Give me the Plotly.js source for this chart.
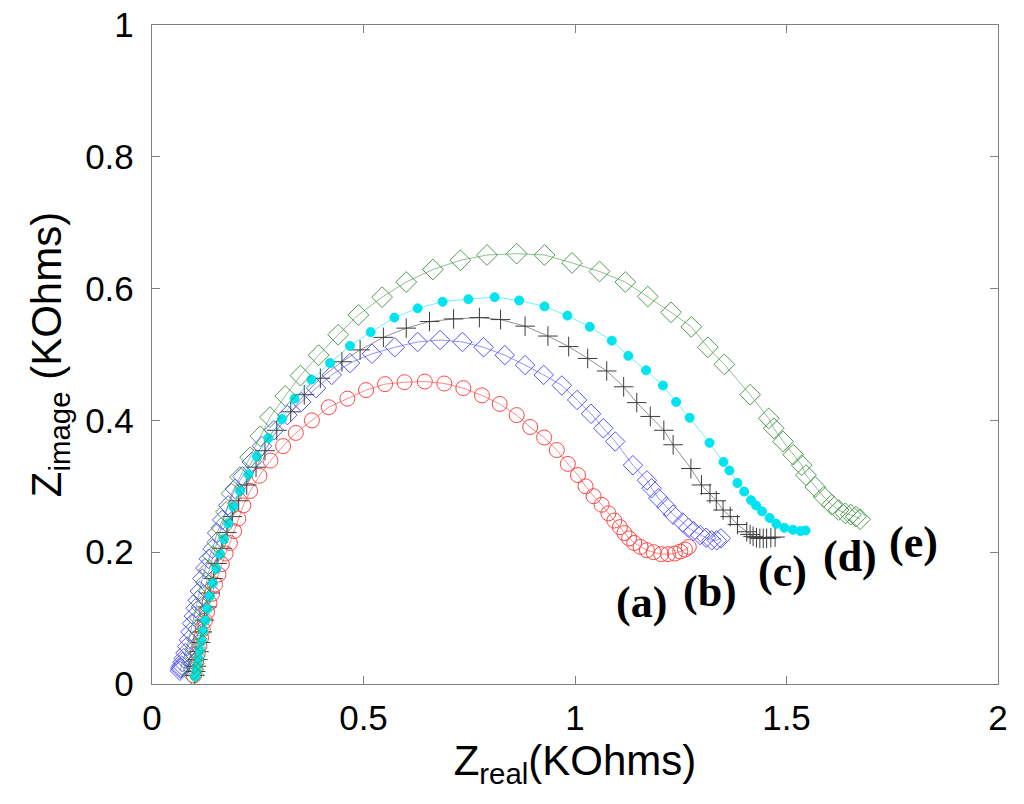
<!DOCTYPE html>
<html>
<head>
<meta charset="utf-8">
<script src="https://cdn.plot.ly/plotly-3.0.1.min.js"></script>
<style>html,body{margin:0;padding:0;background:#fff;}#chart{width:1024px;height:804px;}</style>
</head>
<body>
<div id="chart"></div>
<script>
// (a) red open circles
const xA = [0.099,0.101,0.104,0.108,0.112,0.116,0.120,0.125,0.130,0.136,0.142,0.149,0.157,0.165,0.174,0.184,0.194,0.204,0.216,0.232,0.254,0.280,0.310,0.340,0.378,0.418,0.462,0.506,0.551,0.597,0.645,0.691,0.736,0.780,0.822,0.862,0.894,0.927,0.957,0.983,1.007,1.025,1.044,1.063,1.079,1.093,1.106,1.117,1.128,1.140,1.155,1.170,1.186,1.204,1.220,1.236,1.249,1.260,1.269];
const yA = [0.013,0.024,0.035,0.046,0.058,0.070,0.083,0.096,0.109,0.123,0.137,0.151,0.166,0.182,0.198,0.214,0.232,0.251,0.271,0.293,0.316,0.339,0.361,0.381,0.400,0.420,0.433,0.446,0.455,0.458,0.459,0.456,0.449,0.438,0.425,0.408,0.390,0.374,0.355,0.334,0.317,0.300,0.285,0.272,0.259,0.248,0.238,0.229,0.221,0.214,0.208,0.203,0.200,0.197,0.197,0.198,0.201,0.204,0.208];
// (b) blue open diamonds
const xB = [0.066,0.067,0.068,0.070,0.072,0.075,0.079,0.083,0.087,0.091,0.095,0.099,0.103,0.108,0.113,0.119,0.126,0.134,0.143,0.154,0.166,0.180,0.196,0.214,0.236,0.260,0.288,0.320,0.353,0.388,0.425,0.468,0.520,0.574,0.628,0.681,0.734,0.784,0.834,0.882,0.926,0.969,1.005,1.038,1.067,1.095,1.137,1.170,1.181,1.197,1.216,1.232,1.255,1.268,1.280,1.296,1.310,1.323,1.335,1.345];
const yB = [0.020,0.023,0.025,0.028,0.033,0.039,0.047,0.057,0.067,0.079,0.092,0.103,0.115,0.127,0.141,0.160,0.176,0.190,0.205,0.229,0.249,0.271,0.296,0.315,0.337,0.361,0.385,0.408,0.428,0.449,0.469,0.487,0.501,0.511,0.519,0.522,0.519,0.511,0.499,0.484,0.469,0.453,0.431,0.410,0.388,0.368,0.332,0.309,0.297,0.282,0.269,0.257,0.245,0.237,0.232,0.226,0.222,0.218,0.218,0.221];
// (c) black plus
const xC = [0.101,0.103,0.105,0.108,0.111,0.115,0.119,0.124,0.130,0.137,0.145,0.154,0.165,0.177,0.190,0.205,0.224,0.246,0.267,0.295,0.328,0.360,0.398,0.449,0.492,0.547,0.601,0.656,0.713,0.774,0.824,0.882,0.936,0.985,1.030,1.075,1.115,1.146,1.178,1.210,1.232,1.274,1.299,1.319,1.334,1.350,1.367,1.384,1.406,1.414,1.421,1.429,1.437,1.445,1.453,1.463,1.473];
const yC = [0.013,0.019,0.027,0.037,0.049,0.063,0.079,0.097,0.117,0.138,0.160,0.183,0.206,0.230,0.254,0.278,0.302,0.329,0.354,0.385,0.413,0.439,0.464,0.489,0.507,0.526,0.540,0.550,0.554,0.556,0.553,0.543,0.528,0.512,0.494,0.475,0.451,0.427,0.406,0.385,0.363,0.327,0.302,0.289,0.278,0.264,0.254,0.242,0.231,0.227,0.224,0.222,0.221,0.221,0.221,0.222,0.223];
// (d) cyan filled circles
const xD = [0.102,0.103,0.105,0.107,0.110,0.113,0.117,0.121,0.126,0.131,0.137,0.144,0.152,0.161,0.170,0.180,0.192,0.208,0.228,0.248,0.275,0.307,0.337,0.377,0.421,0.468,0.517,0.573,0.628,0.687,0.748,0.810,0.868,0.928,0.982,1.035,1.087,1.126,1.168,1.208,1.239,1.271,1.318,1.351,1.365,1.384,1.400,1.416,1.428,1.442,1.460,1.476,1.495,1.515,1.533,1.545];
const yD = [0.011,0.015,0.021,0.029,0.039,0.051,0.065,0.080,0.096,0.114,0.133,0.153,0.175,0.197,0.220,0.244,0.269,0.293,0.318,0.345,0.373,0.402,0.433,0.462,0.487,0.513,0.534,0.556,0.570,0.580,0.584,0.587,0.582,0.573,0.559,0.542,0.521,0.498,0.476,0.453,0.428,0.404,0.366,0.337,0.324,0.305,0.292,0.279,0.271,0.262,0.252,0.243,0.237,0.234,0.232,0.233];
// (e) green open diamonds
const xE = [0.097,0.098,0.099,0.101,0.103,0.106,0.109,0.113,0.117,0.122,0.128,0.135,0.144,0.154,0.164,0.175,0.188,0.208,0.232,0.256,0.279,0.315,0.351,0.394,0.440,0.488,0.544,0.601,0.664,0.729,0.792,0.862,0.928,0.993,1.058,1.119,1.172,1.227,1.275,1.314,1.353,1.414,1.458,1.470,1.492,1.516,1.536,1.546,1.568,1.588,1.607,1.623,1.639,1.652,1.664,1.674];
const yE = [0.014,0.022,0.031,0.042,0.054,0.068,0.083,0.100,0.117,0.135,0.154,0.173,0.194,0.215,0.237,0.261,0.289,0.314,0.344,0.376,0.405,0.437,0.468,0.499,0.530,0.560,0.587,0.610,0.629,0.643,0.651,0.653,0.651,0.639,0.626,0.610,0.588,0.564,0.542,0.511,0.485,0.439,0.403,0.388,0.368,0.348,0.332,0.317,0.299,0.284,0.272,0.264,0.259,0.257,0.254,0.250];

const curveLabels = ['(a)','(b)','(c)','(d)','(e)'];
const labelX = [1.157,1.319,1.490,1.651,1.800];
const labelY = [0.123,0.141,0.171,0.194,0.214];

const xTicks = [0,0.5,1,1.5,2];
const xTickText = ['0','0.5','1','1.5','2'];
const yTicks = [0,0.2,0.4,0.6,0.8,1];
const yTickText = ['0','0.2','0.4','0.6','0.8','1'];

function tr(x, y, color, lineColor, symbol, size) {
  return {
    x: x, y: y, type: 'scatter', mode: 'lines+markers',
    line: {color: lineColor, width: 0.8},
    marker: {symbol: symbol, size: size, color: color, line: {color: color, width: 1}},
    hoverinfo: 'skip', showlegend: false
  };
}

const data = [
  tr(xA, yA, 'rgb(255,70,70)', 'rgba(255,70,70,0.8)', 'circle-open', 15),
  tr(xB, yB, 'rgb(85,85,255)', 'rgba(85,85,255,0.8)', 'diamond-open', 15),
  tr(xC, yC, 'rgb(60,60,60)', 'rgba(60,60,60,0.7)', 'cross-thin-open', 14),
  tr(xD, yD, 'rgb(0,228,240)', 'rgba(0,228,240,0.7)', 'circle', 9),
  tr(xE, yE, 'rgb(80,155,80)', 'rgba(80,155,80,0.8)', 'diamond-open', 16)
];

const annotations = curveLabels.map((t, i) => ({
  x: labelX[i], y: labelY[i], xref: 'x', yref: 'y',
  text: '<b>' + t + '</b>', showarrow: false,
  font: {family: 'Liberation Serif, Times New Roman, serif', size: 44, color: '#000'}
}));

const axisCommon = {
  showgrid: false, zeroline: false,
  showline: true, linecolor: '#808080', linewidth: 1.2, mirror: 'ticks',
  ticks: 'inside', ticklen: 8, tickcolor: '#808080', tickwidth: 1,
  tickfont: {family: 'Liberation Sans, Arial, sans-serif', size: 35, color: '#000'}
};

const layout = {
  width: 1024, height: 804,
  margin: {l: 152, r: 26, t: 25, b: 120},
  paper_bgcolor: '#fff', plot_bgcolor: '#fff',
  xaxis: Object.assign({}, axisCommon, {
    range: [0, 2], tickvals: xTicks, ticktext: xTickText,
    ticklabelstandoff: 3,
    title: {text: 'Z<sub>real</sub>(KOhms)', standoff: 4,
      font: {family: 'Liberation Sans, Arial, sans-serif', size: 42, color: '#000'}}
  }),
  yaxis: Object.assign({}, axisCommon, {
    range: [0, 1], tickvals: yTicks, ticktext: yTickText,
    ticklabelstandoff: 10,
    title: {text: 'Z<sub>image</sub> (KOhms)', standoff: 10,
      font: {family: 'Liberation Sans, Arial, sans-serif', size: 42, color: '#000'}}
  }),
  annotations: annotations
};

Plotly.newPlot('chart', data, layout, {displayModeBar: false, staticPlot: true});
</script>
</body>
</html>
